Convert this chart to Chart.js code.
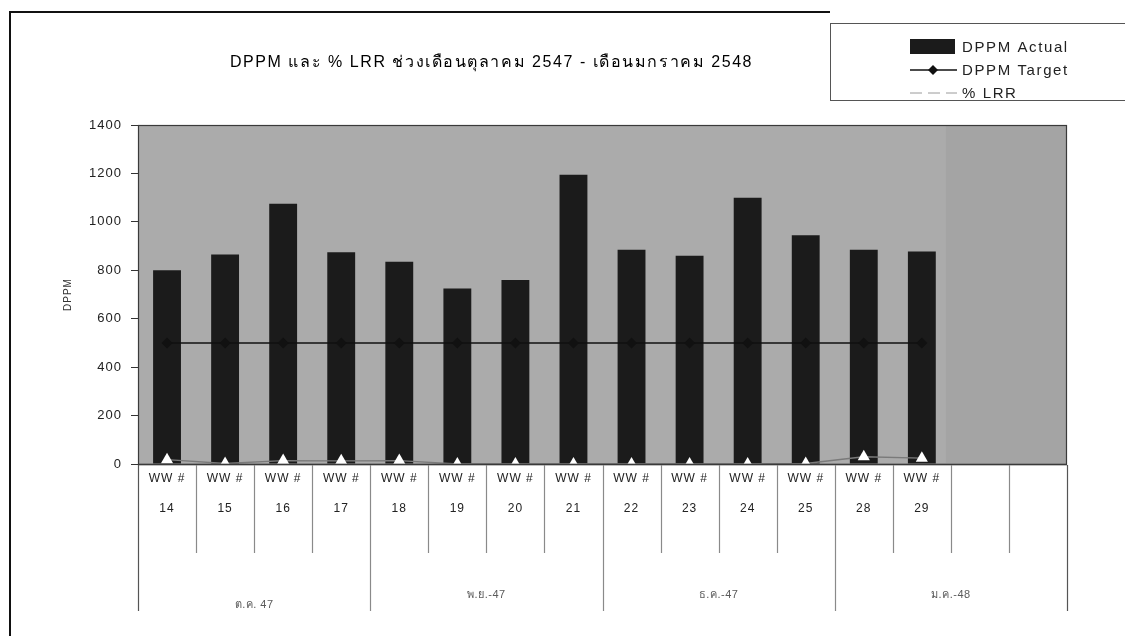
<!DOCTYPE html>
<html>
<head>
<meta charset="utf-8">
<script src="https://cdn.jsdelivr.net/npm/chart.js@4.4.1/dist/chart.umd.min.js"></script>
<style>
  html, body { margin: 0; padding: 0; background: #fff; }
  canvas { display: block; }
</style>
</head>
<body>
<canvas id="c" width="1125" height="636"></canvas>
<script>
// Weekly DPPM vs target, with % LRR, Oct 2547 - Jan 2548
const chartTitle = 'DPPM และ % LRR ช่วงเดือนตุลาคม 2547 - เดือนมกราคม 2548';
const weekPrefix = 'WW #';
const weekNumbers = ['14', '15', '16', '17', '18', '19', '20', '21', '22', '23', '24', '25', '28', '29', '', ''];
const monthLabels = ['ต.ค. 47', 'พ.ย.-47', 'ธ.ค.-47', 'ม.ค.-48'];
const monthSpans = [4, 4, 4, 4];
const dppmActual = [800, 865, 1075, 875, 835, 725, 760, 1195, 885, 860, 1100, 945, 885, 878, null, null];
const dppmTarget = [500, 500, 500, 500, 500, 500, 500, 500, 500, 500, 500, 500, 500, 500, null, null];
const lrrPercent = [18, 2, 14, 13, 14, 0, 0, 0, 0, 0, 0, 2, 30, 24, null, null];
const yMin = 0, yMax = 1400, yStep = 200;
const legendNames = ['DPPM Actual', 'DPPM Target', '% LRR'];
const yAxisTitle = 'DPPM';

const FONT = '"Liberation Sans", Arial, "DejaVu Sans", sans-serif';

const decor = {
  id: 'decor',
  beforeDraw(chart) {
    const { ctx, chartArea: a, scales: { x } } = chart;
    ctx.save();
    ctx.fillStyle = '#ffffff';
    ctx.fillRect(0, 0, chart.width, chart.height);
    ctx.fillStyle = '#ababab';
    ctx.fillRect(a.left, a.top, a.right - a.left, a.bottom - a.top);
    // empty weeks at the end are shaded separately
    const w = x.getPixelForValue(1) - x.getPixelForValue(0);
    const firstEmpty = weekNumbers.findIndex(s => s === '');
    if (firstEmpty >= 0) {
      const sx = x.getPixelForValue(firstEmpty) - w / 2 - 5;
      ctx.fillStyle = '#a4a4a4';
      ctx.fillRect(sx, a.top + 1, a.right - sx - 1, a.bottom - a.top - 2);
    }
    ctx.restore();
    ctx.letterSpacing = '1px';
  },
  afterDraw(chart) {
    const { ctx, chartArea: a, scales: { x } } = chart;
    const w = x.getPixelForValue(1) - x.getPixelForValue(0);
    const n = weekNumbers.length;
    ctx.save();
    ctx.letterSpacing = '0px';

    // plot border
    ctx.strokeStyle = '#3a3a3a';
    ctx.lineWidth = 1.2;
    ctx.strokeRect(a.left + 0.5, a.top + 0.5, a.right - a.left - 1, a.bottom - a.top);
    ctx.lineWidth = 1.6;
    ctx.beginPath();
    ctx.moveTo(a.left, a.bottom + 0.5);
    ctx.lineTo(a.right, a.bottom + 0.5);
    ctx.stroke();

    // category table below the axis
    const groupEdges = new Set([0]);
    let acc = 0;
    monthSpans.forEach(s => { acc += s; groupEdges.add(acc); });
    for (let i = 0; i <= n; i++) {
      const px = Math.round(x.getPixelForValue(i) - w / 2) + 0.5;
      const isGroup = groupEdges.has(i);
      ctx.strokeStyle = (i === 0 || i === n) ? '#555' : '#8a8a8a';
      ctx.lineWidth = 1.2;
      ctx.beginPath();
      ctx.moveTo(px, a.bottom + 1);
      ctx.lineTo(px, isGroup ? 611 : 553);
      ctx.stroke();
    }

    // month labels
    ctx.fillStyle = '#5a5a5a';
    ctx.font = '11px ' + FONT;
    ctx.letterSpacing = '0.5px';
    ctx.textAlign = 'center';
    ctx.textBaseline = 'middle';
    let start = 0;
    monthLabels.forEach((lab, gi) => {
      const end = start + monthSpans[gi] - 1;
      const cx = (x.getPixelForValue(start) + x.getPixelForValue(end)) / 2;
      ctx.fillText(lab, cx, gi === 0 ? 605 : 595);
      start += monthSpans[gi];
    });

    // title
    ctx.fillStyle = '#000';
    ctx.font = '16px ' + FONT;
    ctx.letterSpacing = '1.55px';
    ctx.textAlign = 'left';
    ctx.fillText(chartTitle, 230, 63);

    // legend
    ctx.letterSpacing = '1.6px';
    ctx.strokeStyle = '#555';
    ctx.lineWidth = 1;
    ctx.strokeRect(830.5, 23.5, 310, 77);
    const metas = chart.data.datasets;
    const rows = [47, 70, 93];
    // bar swatch
    ctx.fillStyle = metas[2].backgroundColor;
    ctx.fillRect(910, 39, 45, 15);
    // target line with diamond
    ctx.strokeStyle = metas[1].borderColor;
    ctx.lineWidth = 1.6;
    ctx.beginPath(); ctx.moveTo(910, rows[1]); ctx.lineTo(957, rows[1]); ctx.stroke();
    ctx.fillStyle = metas[1].pointBackgroundColor;
    ctx.beginPath();
    ctx.moveTo(933, rows[1] - 5); ctx.lineTo(938, rows[1]); ctx.lineTo(933, rows[1] + 5); ctx.lineTo(928, rows[1]);
    ctx.closePath(); ctx.fill();
    // lrr line
    ctx.strokeStyle = '#9a9a9a';
    ctx.lineWidth = 1;
    ctx.setLineDash([12, 6]);
    ctx.beginPath(); ctx.moveTo(910, rows[2]); ctx.lineTo(957, rows[2]); ctx.stroke();
    ctx.setLineDash([]);
    ctx.fillStyle = '#222';
    ctx.font = '15px ' + FONT;
    ctx.textAlign = 'left';
    legendNames.forEach((t, i) => ctx.fillText(t, 962, rows[i] + 1));

    // outer frame
    ctx.strokeStyle = '#111';
    ctx.lineWidth = 2;
    ctx.beginPath();
    ctx.moveTo(10, 636); ctx.lineTo(10, 12); ctx.lineTo(830, 12);
    ctx.stroke();
    ctx.restore();
  }
};

new Chart(document.getElementById('c'), {
  data: {
    labels: weekNumbers,
    datasets: [
      {
        type: 'line', label: legendNames[2], data: lrrPercent, order: 1,
        borderColor: '#7a7a7a', borderWidth: 1.3,
        pointStyle: 'triangle', pointRadius: 7, pointBackgroundColor: '#ffffff',
        pointBorderColor: '#ffffff', pointBorderWidth: 0, clip: false
      },
      {
        type: 'line', label: legendNames[1], data: dppmTarget, order: 2,
        borderColor: '#111111', borderWidth: 1.6,
        pointStyle: 'rectRot', pointRadius: 5.5, pointBackgroundColor: '#111111',
        pointBorderColor: '#111111', pointBorderWidth: 0
      },
      {
        type: 'bar', label: legendNames[0], data: dppmActual, order: 3,
        backgroundColor: '#1b1b1b', borderWidth: 0,
        barPercentage: 0.48, categoryPercentage: 1
      }
    ]
  },
  options: {
    responsive: false,
    animation: false,
    devicePixelRatio: 1,
    layout: { padding: { left: 58, right: 58, top: 125, bottom: 0 } },
    plugins: { legend: { display: false }, title: { display: false }, tooltip: { enabled: false } },
    scales: {
      x: {
        offset: true,
        grid: { display: false },
        border: { display: false },
        afterFit(s) { s.height = 172; },
        ticks: {
          autoSkip: false, maxRotation: 0, padding: -8, color: '#222',
          font: { size: 12, family: FONT, lineHeight: '30px' },
          callback: (v, i) => weekNumbers[i] ? [weekPrefix, weekNumbers[i]] : ''
        }
      },
      y: {
        min: yMin, max: yMax,
        afterFit(s) { s.width = 80; },
        title: { display: true, text: yAxisTitle, color: '#333', font: { size: 10, family: FONT }, padding: { top: 4, bottom: 0 } },
        grid: { drawOnChartArea: false, tickLength: 7, color: '#333' },
        border: { display: true, color: '#333' },
        ticks: {
          stepSize: yStep, padding: 9, color: '#222', font: { size: 13, family: FONT },
          callback: v => String(v)
        }
      }
    }
  },
  plugins: [decor]
});
</script>
</body>
</html>
